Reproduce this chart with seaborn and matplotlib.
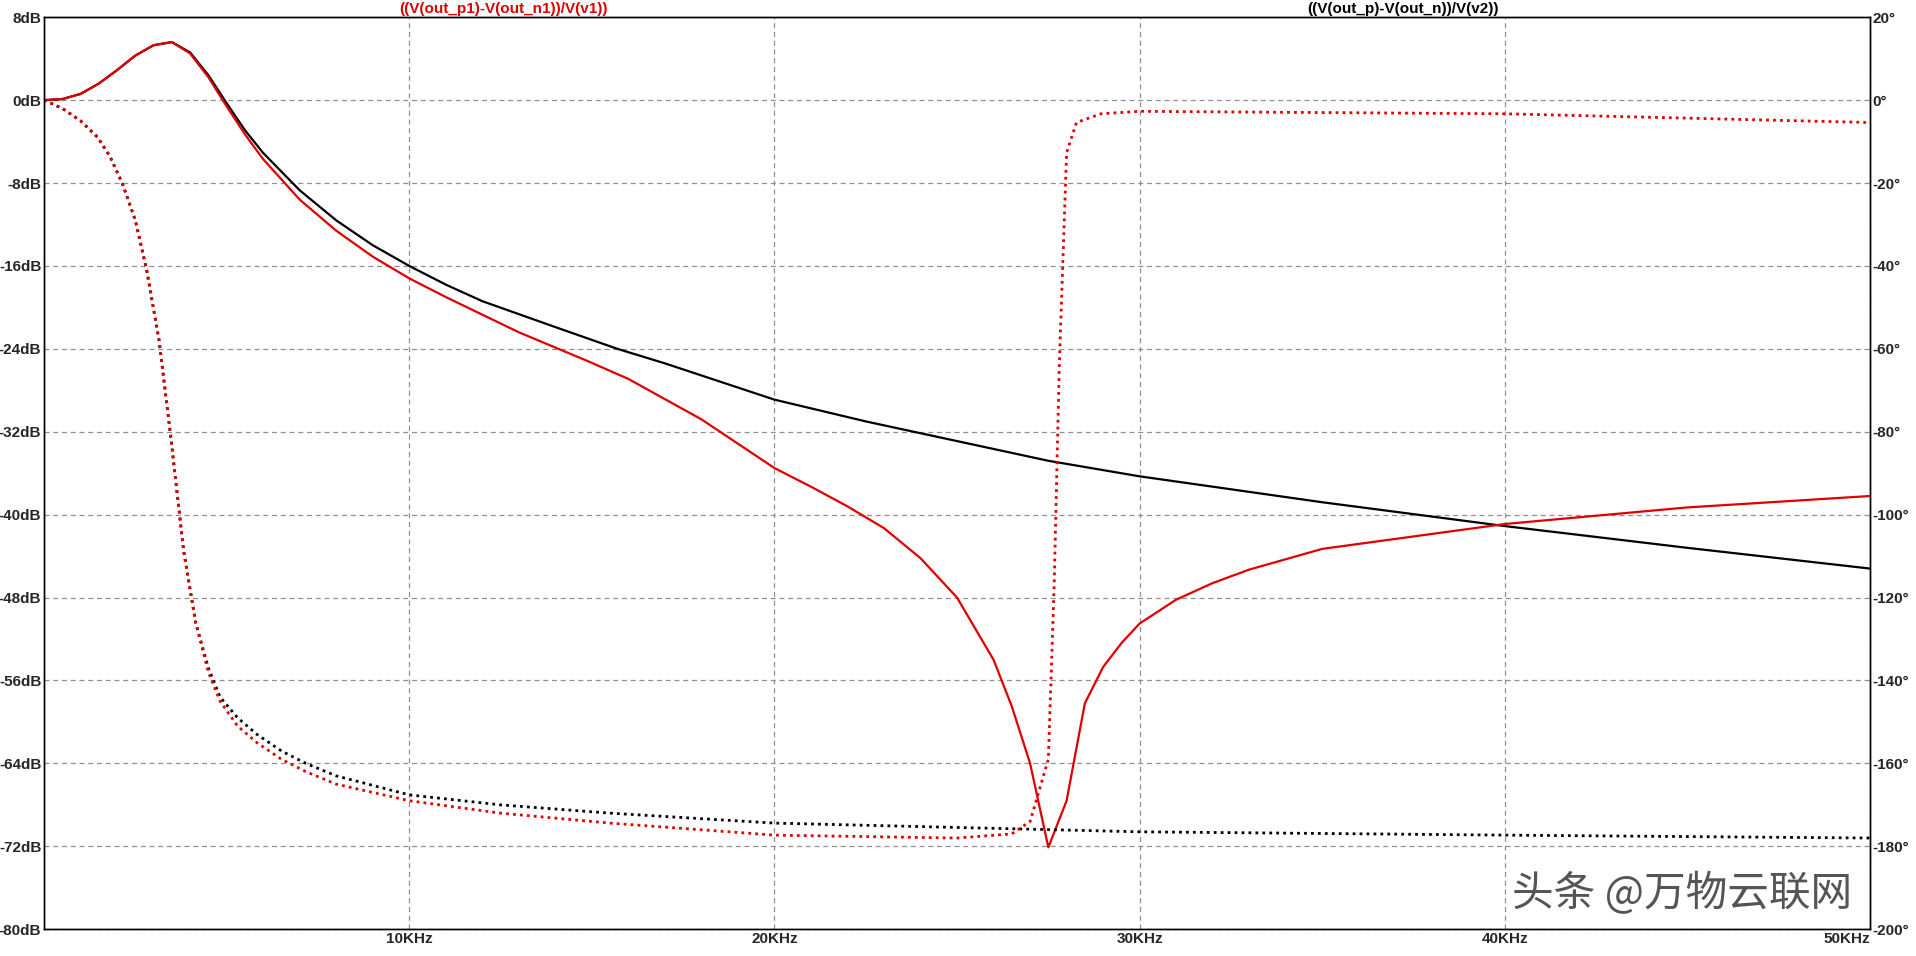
import matplotlib
matplotlib.use("Agg")
import matplotlib.pyplot as plt
import seaborn as sns

# magnitude (dB) vs frequency (kHz)
f_black = [0, 0.5, 1, 1.5, 2, 2.5, 3, 3.5, 4, 4.5, 5, 5.5, 6, 7, 8, 9, 10, 11, 12, 14, 15.7, 17, 20, 22.5, 25, 27.5, 30, 35, 40, 45, 50]
m_black = [0, 0.1, 0.6, 1.6, 2.9, 4.3, 5.3, 5.6, 4.6, 2.4, -0.3, -2.9, -5.1, -8.7, -11.6, -14.0, -16.0, -17.8, -19.4, -21.9, -24.0, -25.4, -28.9, -31.0, -32.9, -34.8, -36.3, -38.8, -41.1, -43.2, -45.2]
f_red = [0, 0.5, 1, 1.5, 2, 2.5, 3, 3.5, 4, 4.5, 5, 5.5, 6, 7, 8, 9, 10, 11, 12, 13, 14.9, 16, 18, 20, 21, 22, 23, 24, 25, 26, 26.5, 27, 27.5, 28, 28.5, 29, 29.5, 30, 31, 32, 33, 35, 40, 45, 50]
m_red = [0, 0.1, 0.6, 1.6, 2.9, 4.3, 5.3, 5.6, 4.5, 2.2, -0.6, -3.3, -5.7, -9.6, -12.6, -15.1, -17.2, -19.0, -20.7, -22.4, -25.2, -26.9, -30.8, -35.5, -37.3, -39.2, -41.3, -44.2, -48.0, -54.0, -58.5, -64.0, -72.1, -67.6, -58.2, -54.7, -52.4, -50.5, -48.2, -46.6, -45.3, -43.3, -40.9, -39.3, -38.2]
# phase (deg)
pf_black = [0, 0.5, 1, 1.47, 1.8, 2.14, 2.5, 2.81, 3.15, 3.48, 3.82, 4.15, 4.5, 4.82, 5.3, 5.83, 6.5, 7.17, 8, 10, 12.5, 15.5, 20, 30, 40, 50]
p_black = [0, -2, -5, -9, -13.5, -20, -29, -41, -58, -82, -108.6, -126, -137, -144, -149, -153, -157, -160, -163, -167.6, -170, -172, -174.4, -176.5, -177.3, -178]
pf_red = [0, 0.5, 1, 1.47, 1.8, 2.14, 2.5, 2.81, 3.15, 3.48, 3.82, 4.15, 4.5, 4.82, 5.3, 5.83, 6.5, 7.17, 8, 10, 12.5, 15.5, 20, 25, 26.5, 27.0, 27.5, 27.66, 27.8, 28.0, 28.27, 28.94, 30, 40, 50]
p_red = [0, -2, -5, -9, -13.5, -20, -29, -41, -58, -82, -108.6, -126, -138, -145, -151, -155, -159, -162, -165, -169, -172, -174.4, -177.3, -178, -177, -174, -159, -117, -64, -12.7, -5.4, -3.3, -2.7, -3.3, -5.4]

xticks = [10, 20, 30, 40, 50]
xlabels = ["10KHz", "20KHz", "30KHz", "40KHz", "50KHz"]
yticks = list(range(8, -81, -8))
rticks = list(range(20, -201, -20))

sns.set_style("white")
plt.rcParams['font.family'] = ['Liberation Sans', 'Noto Sans CJK SC', 'DejaVu Sans']

fig = plt.figure(figsize=(19.16, 9.56), dpi=100)
ax = fig.add_axes([0.023, 0.028, 0.953, 0.954])
ax2 = ax.twinx()

sns.lineplot(x=f_black, y=m_black, ax=ax, color="black", lw=1.6)
sns.lineplot(x=f_red, y=m_red, ax=ax, color="#e00000", lw=1.6)
sns.lineplot(x=pf_black, y=p_black, ax=ax2, color="black", lw=2, linestyle=(0, (1, 1.5)))
sns.lineplot(x=pf_red, y=p_red, ax=ax2, color="#e00000", lw=2, linestyle=(0, (1, 1.5)))

ax.set_xlim(0, 50)
ax.set_ylim(-80, 8)
ax2.set_ylim(-200, 20)
ax.set_xticks(xticks)
ax.set_xticklabels(xlabels, fontsize=11, fontweight="bold")
ax.get_xticklabels()[-1].set_horizontalalignment("right")
ax.set_yticks(yticks)
ax.set_yticklabels([f"{v}dB" for v in yticks], fontsize=11, fontweight="bold")
ax2.set_yticks(rticks)
ax2.set_yticklabels([f"{v}°" for v in rticks], fontsize=11, fontweight="bold")
ax.tick_params(axis='both', length=0, pad=2)
ax2.tick_params(length=0, pad=2)
ax.grid(True, color="#909090", linestyle=(0, (4, 3)), lw=0.9)
for a in (ax, ax2):
    for s in a.spines.values():
        s.set_color("black"); s.set_linewidth(1)

fig.text(0.263, 0.991, "((V(out_p1)-V(out_n1))/V(v1))", color="#e00000", fontsize=11, fontweight="bold", ha="center", va="center")
fig.text(0.732, 0.991, "((V(out_p)-V(out_n))/V(v2))", color="black", fontsize=11, fontweight="bold", ha="center", va="center")
fig.text(0.878, 0.065, "头条 @万物云联网", color="#555555", fontsize=30, ha="center", va="center",
         family=['Noto Sans CJK SC', 'DejaVu Sans'])

fig.savefig("out.png", dpi=100, facecolor="white")
